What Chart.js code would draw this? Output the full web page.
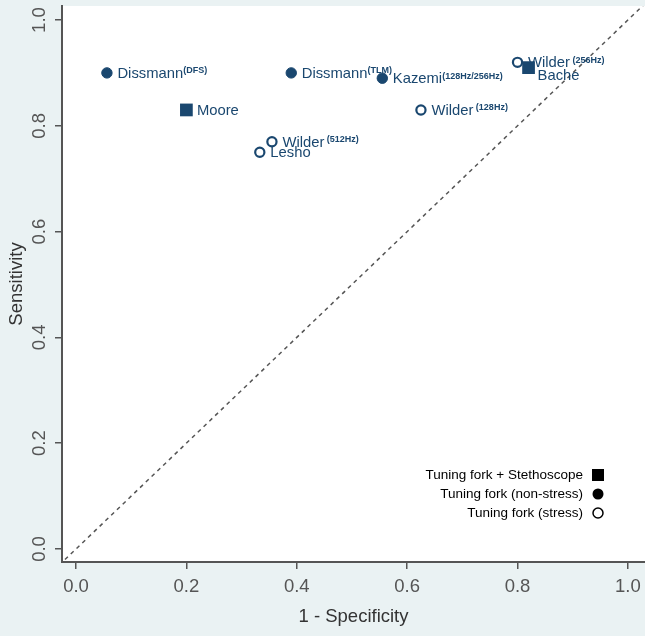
<!DOCTYPE html>
<html>
<head>
<meta charset="utf-8">
<script src="https://cdn.jsdelivr.net/npm/chart.js@4.4.1/dist/chart.umd.min.js"></script>
<style>
  html, body { margin: 0; padding: 0; background: #eaf2f3; }
  canvas { display: block; }
</style>
</head>
<body>
<canvas id="myChart" width="645" height="636"></canvas>
<script>
// Summary ROC style plot: 1 - specificity vs sensitivity for each study

const studyNames   = ['Dissmann', 'Moore', 'Lesho', 'Wilder', 'Dissmann', 'Kazemi', 'Wilder', 'Wilder', 'Bache'];
const studyTags    = ['(DFS)', '', '', ' (512Hz)', '(TLM)', '(128Hz/256Hz)', ' (128Hz)', ' (256Hz)', ''];
const oneMinusSpec = [0.056, 0.20, 0.333, 0.355, 0.39, 0.555, 0.625, 0.80, 0.82];
const sensitivity  = [0.90, 0.83, 0.75, 0.77, 0.90, 0.89, 0.83, 0.92, 0.91];
const studyGroup   = ['non-stress', 'stethoscope', 'stress', 'stress', 'non-stress', 'non-stress', 'stress', 'stress', 'stethoscope'];

const groupKeys   = ['stethoscope', 'non-stress', 'stress'];
const groupLabels = ['Tuning fork + Stethoscope', 'Tuning fork (non-stress)', 'Tuning fork (stress)'];

const axisTicks = [0, 0.2, 0.4, 0.6, 0.8, 1.0];
const chanceLine = [-0.02, 1.03];   // y = x reference line ends

const navy = '#1a476f';
const family = '"Liberation Sans", Arial, sans-serif';
const axisFont = 18.5;
Chart.defaults.font.family = family;

// points of one group, as {x, y}
function groupPoints(key) {
    const pts = [];
    studyGroup.forEach((g, i) => {
        if (g === key) pts.push({x: oneMinusSpec[i], y: sensitivity[i]});
    });
    return pts;
}

// grey page with white plot region
const paperBg = {
    id: 'paperBg',
    beforeDraw(chart) {
        const {ctx, chartArea: a} = chart;
        ctx.save();
        ctx.fillStyle = '#eaf2f3';
        ctx.fillRect(0, 0, chart.width, chart.height);
        ctx.fillStyle = '#ffffff';
        ctx.fillRect(a.left, a.top, a.right - a.left, a.bottom - a.top);
        ctx.restore();
    }
};

// vertical tick labels on the y axis (stata style)
const yTickText = {
    id: 'yTickText',
    afterDraw(chart) {
        const {ctx} = chart;
        const y = chart.scales.y;
        ctx.save();
        ctx.font = axisFont + 'px ' + family;
        ctx.fillStyle = '#555555';
        ctx.textAlign = 'center';
        ctx.textBaseline = 'middle';
        y.ticks.forEach(t => {
            ctx.save();
            ctx.translate(40, y.getPixelForValue(t.value));
            ctx.rotate(-Math.PI / 2);
            ctx.fillText(t.value.toFixed(1), 0, 0);
            ctx.restore();
        });
        ctx.restore();
    }
};

// study names next to markers, with small raised tags
const pointLabels = {
    id: 'pointLabels',
    afterDatasetsDraw(chart) {
        const {ctx} = chart;
        const {x, y} = chart.scales;
        const nudge = {Bache: [9, 7]};
        ctx.save();
        ctx.fillStyle = navy;
        ctx.textAlign = 'left';
        ctx.textBaseline = 'alphabetic';
        studyNames.forEach((name, i) => {
            const off = nudge[name] || [10.5, 0];
            const px = x.getPixelForValue(oneMinusSpec[i]) + off[0];
            const base = y.getPixelForValue(sensitivity[i]) + off[1] + 5;
            ctx.font = '14.8px ' + family;
            ctx.fillText(name, px, base);
            if (studyTags[i]) {
                const w = ctx.measureText(name).width;
                ctx.font = 'bold 9px ' + family;
                ctx.fillText(studyTags[i], px + w, base - 4.5);
            }
        });
        ctx.restore();
    }
};

// key in the lower right corner, text left of the symbol
const keyBox = {
    id: 'keyBox',
    afterDraw(chart) {
        const {ctx, chartArea: a} = chart;
        const textRight = a.right - 62;
        const markX = a.right - 47;
        ctx.save();
        ctx.font = '13.5px ' + family;
        ctx.textAlign = 'right';
        ctx.textBaseline = 'middle';
        groupLabels.forEach((lab, i) => {
            const rowY = a.bottom - 87 + i * 19;
            ctx.fillStyle = '#000000';
            ctx.fillText(lab, textRight, rowY);
            ctx.beginPath();
            if (groupKeys[i] === 'stethoscope') {
                ctx.fillRect(markX - 6, rowY - 6, 12, 12);
            } else if (groupKeys[i] === 'non-stress') {
                ctx.arc(markX, rowY, 5.5, 0, Math.PI * 2);
                ctx.fill();
            } else {
                ctx.arc(markX, rowY, 5, 0, Math.PI * 2);
                ctx.fillStyle = '#ffffff';
                ctx.fill();
                ctx.lineWidth = 1.5;
                ctx.strokeStyle = '#000000';
                ctx.stroke();
            }
        });
        ctx.restore();
    }
};

const axisGrid = {drawOnChartArea: false, drawTicks: true, tickLength: 7, color: '#555555', lineWidth: 1.5};
const axisBorder = {display: true, color: '#555555', width: 2};

const ctx = document.getElementById('myChart');

const myChart = new Chart(ctx, {
    type: 'scatter',
    data: {
        datasets: [{
            label: groupLabels[0],
            data: groupPoints('stethoscope'),
            pointStyle: 'rect',
            pointRadius: 9,
            backgroundColor: navy,
            borderColor: navy,
            borderWidth: 0,
            order: 0
        },
        {
            label: groupLabels[1],
            data: groupPoints('non-stress'),
            pointStyle: 'circle',
            pointRadius: 5.2,
            backgroundColor: navy,
            borderColor: navy,
            borderWidth: 1,
            order: 1
        },
        {
            label: groupLabels[2],
            data: groupPoints('stress'),
            pointStyle: 'circle',
            pointRadius: 4.6,
            backgroundColor: '#ffffff',
            borderColor: navy,
            borderWidth: 2.2,
            order: 2
        },
        {
            label: 'chance',
            data: chanceLine.map(v => ({x: v, y: v})),
            showLine: true,
            borderColor: '#555555',
            borderWidth: 1.5,
            borderDash: [4, 4],
            pointRadius: 0,
            order: 3
        }]
    },
    options: {
        responsive: false,
        animation: false,
        layout: {
            autoPadding: false,
            padding: {top: 6, right: 0, bottom: 0, left: 0}
        },
        scales: {
            x: {
                type: 'linear',
                min: -0.0254,
                max: 1.031,
                afterBuildTicks: s => { s.ticks = axisTicks.map(v => ({value: v})); },
                afterFit: s => { s.height = 74; s.paddingLeft = 0; s.paddingRight = 0; },
                grid: axisGrid,
                border: axisBorder,
                ticks: {
                    padding: 7,
                    color: '#555555',
                    font: {size: axisFont},
                    callback: v => Number(v).toFixed(1)
                },
                title: {
                    display: true,
                    text: '1 - Specificity',
                    color: '#333333',
                    font: {size: axisFont},
                    padding: 8
                }
            },
            y: {
                type: 'linear',
                min: -0.0246,
                max: 1.0265,
                afterBuildTicks: s => { s.ticks = axisTicks.map(v => ({value: v})); },
                afterFit: s => { s.width = 62; s.paddingTop = 0; s.paddingBottom = 0; },
                grid: axisGrid,
                border: axisBorder,
                ticks: {display: false},
                title: {
                    display: true,
                    text: 'Sensitivity',
                    color: '#333333',
                    font: {size: axisFont},
                    padding: 6
                }
            }
        },
        plugins: {
            legend: {display: false},
            tooltip: {enabled: false}
        }
    },
    plugins: [paperBg, pointLabels, yTickText, keyBox]
});
</script>
</body>
</html>
